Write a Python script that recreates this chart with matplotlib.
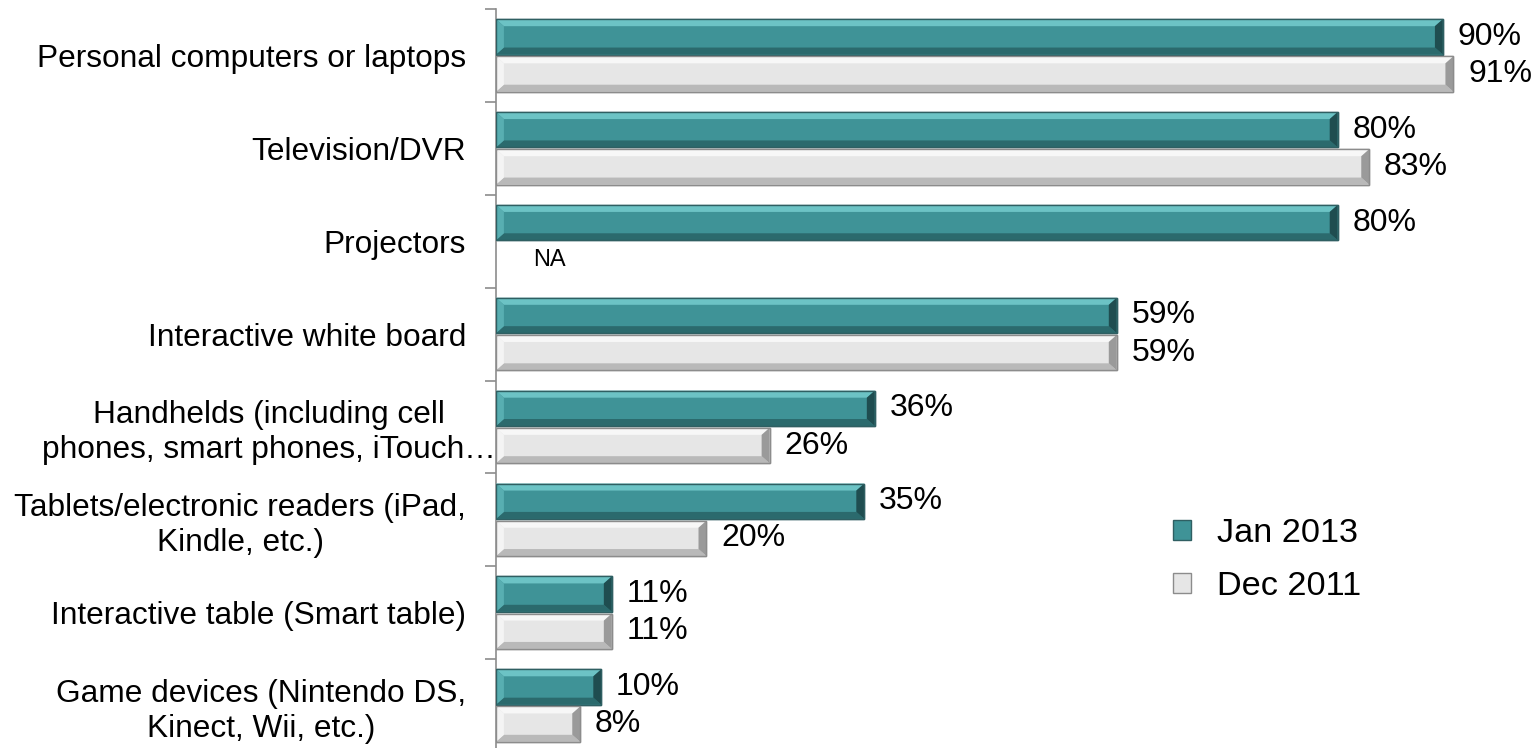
import matplotlib.pyplot as plt
from matplotlib.patches import Patch
from matplotlib.transforms import ScaledTranslation
import numpy as np

# dados do gráfico
categorias = [
    'Personal computers or laptops',
    'Television/DVR',
    'Projectors',
    'Interactive white board',
    'Handhelds (including cell\nphones, smart phones, iTouch…',
    'Tablets/electronic readers (iPad,\nKindle, etc.)',
    'Interactive table (Smart table)',
    'Game devices (Nintendo DS,\nKinect, Wii, etc.)',
]
jan_2013 = [90, 80, 80, 59, 36, 35, 11, 10]
dez_2011 = [91, 83, None, 59, 26, 20, 11, 8]

# cores (face, topo, base, esquerda, direita, contorno)
teal = ['#3f9397', '#6cc3c5', '#2b6a6d', '#58aeb1', '#1f4d50', '#2f5f62']
branco = ['#e6e6e6', '#f7f7f7', '#b9b9b9', '#f4f4f4', '#9a9a9a', '#8c8c8c']

plt.rcParams['font.family'] = ['Liberation Sans', 'DejaVu Sans']

fig = plt.figure(figsize=(15.4, 7.48), dpi=100)
ax = fig.add_axes([496 / 1540, 1 - 752 / 748, (1548 - 496) / 1540, (752 - 9) / 748])

altura = 0.38
dx = 0.75   # bisel horizontal (unidades de %)
dy = 0.075  # bisel vertical (unidades de categoria)


def barra_bisel(ax, v, yc, h, c):
    y_top = yc - h / 2   # eixo invertido: menor y fica em cima
    y_bot = yc + h / 2
    bx = min(dx, v / 4)
    ax.barh(yc, v, height=h, color=c[0], edgecolor=c[5], linewidth=1.0, zorder=2)
    # topo
    ax.fill([0, v, v - bx, bx], [y_top, y_top, y_top + dy, y_top + dy], color=c[1], lw=0, zorder=3)
    # base
    ax.fill([0, v, v - bx, bx], [y_bot, y_bot, y_bot - dy, y_bot - dy], color=c[2], lw=0, zorder=3)
    # esquerda
    ax.fill([0, bx, bx, 0], [y_top, y_top + dy, y_bot - dy, y_bot], color=c[3], lw=0, zorder=3)
    # direita
    ax.fill([v, v - bx, v - bx, v], [y_top, y_top + dy, y_bot - dy, y_bot], color=c[4], lw=0, zorder=3)
    ax.barh(yc, v, height=h, fill=False, edgecolor=c[5], linewidth=1.0, zorder=4)


y = np.arange(len(categorias))
for i in range(len(categorias)):
    yc1 = y[i] - 0.2
    yc2 = y[i] + 0.2
    barra_bisel(ax, jan_2013[i], yc1, altura, teal)
    ax.text(jan_2013[i] + 1.4, yc1, f'{jan_2013[i]}%', va='center', ha='left', fontsize=23)
    if dez_2011[i] is None:
        ax.text(3.5, yc2, 'NA', va='center', ha='left', fontsize=17)
    else:
        barra_bisel(ax, dez_2011[i], yc2, altura, branco)
        ax.text(dez_2011[i] + 1.4, yc2, f'{dez_2011[i]}%', va='center', ha='left', fontsize=23)

ax.set_xlim(0, 100)
ax.set_ylim(len(categorias) - 0.5, -0.5)

ax.set_yticks(y)
ax.set_yticklabels(categorias, fontsize=22.8, multialignment='center')
ax.set_yticks(np.arange(-0.5, len(categorias) + 0.5, 1), minor=True)
ax.tick_params(axis='y', which='major', length=0, pad=21.5)
ax.tick_params(axis='y', which='minor', length=8, width=1.2, color='#8c8c8c')
ax.set_xticks([])
for s in ['top', 'right', 'bottom']:
    ax.spines[s].set_visible(False)
ax.spines['left'].set_color('#8c8c8c')
ax.spines['left'].set_linewidth(1.2)

# rótulo dos handhelds passa um pouco do alinhamento
rot = ax.get_yticklabels()[4]
rot.set_transform(rot.get_transform() + ScaledTranslation(0.3, 0, fig.dpi_scale_trans))

handles = [Patch(facecolor=teal[0], edgecolor=teal[5], label='Jan 2013'),
           Patch(facecolor=branco[0], edgecolor=branco[5], label='Dec 2011')]
fig.legend(handles=handles, loc='center left', bbox_to_anchor=(1156 / 1540, 1 - 560 / 748),
           frameon=False, fontsize=24.7, handlelength=0.52, handleheight=0.52,
           handletextpad=0.76, labelspacing=0.63, borderpad=0)

fig.savefig('out.png', dpi=100)
